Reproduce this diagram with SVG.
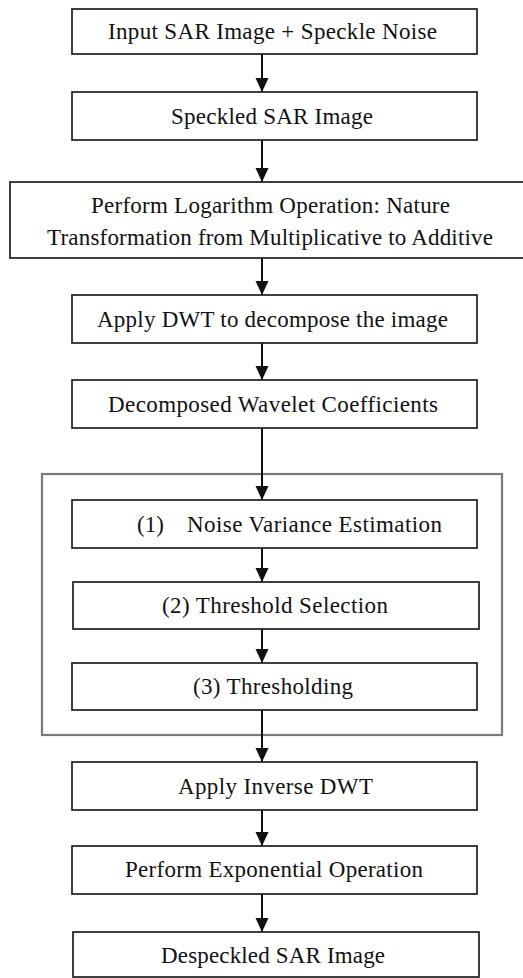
<svg xmlns="http://www.w3.org/2000/svg" width="523" height="978" viewBox="0 0 523 978">
  <style>
    .box { fill: #ffffff; stroke: #1e1e1e; stroke-width: 1.7; }
    .group { fill: none; stroke: #7a7a7a; stroke-width: 2.2; }
    .lbl { font-family: "Liberation Serif", "Times New Roman", serif; font-size: 23px; fill: #111111; text-anchor: middle; }
    .lbl-start { font-family: "Liberation Serif", "Times New Roman", serif; font-size: 23px; fill: #111111; text-anchor: start; }
    .conn { stroke: #111111; stroke-width: 2; fill: none; marker-end: url(#arrow); }
  </style>
  <defs>
    <marker id="arrow" markerUnits="userSpaceOnUse" markerWidth="14" markerHeight="14" refX="14" refY="7" orient="auto">
      <path d="M0,0.5 L14,7 L0,13.5 z" fill="#111111"/>
    </marker>
  </defs>

  <rect width="523" height="978" fill="#ffffff"/>

  <!-- frame around the three denoising steps -->
  <g id="denoise-frame">
    <rect class="group" x="42" y="474" width="460" height="261"/>
  </g>

  <g id="connectors">
    <line class="conn" x1="262" y1="54" x2="262" y2="92"/>
    <line class="conn" x1="262" y1="140" x2="262" y2="182"/>
    <line class="conn" x1="262" y1="258" x2="262" y2="295"/>
    <line class="conn" x1="262" y1="343" x2="262" y2="380"/>
    <line class="conn" x1="262" y1="428" x2="262" y2="500"/>
    <line class="conn" x1="262" y1="548" x2="262" y2="582"/>
    <line class="conn" x1="262" y1="629" x2="262" y2="663"/>
    <line class="conn" x1="262" y1="710" x2="262" y2="762"/>
    <line class="conn" x1="262" y1="810" x2="262" y2="846"/>
    <line class="conn" x1="262" y1="894" x2="262" y2="932"/>
  </g>

  <g id="input">
    <rect class="box" x="72" y="9" width="405" height="45"/>
    <text class="lbl" x="272.5" y="39" textLength="329" lengthAdjust="spacing">Input SAR Image + Speckle Noise</text>
  </g>

  <g id="speckled">
    <rect class="box" x="72" y="92" width="405" height="48"/>
    <text class="lbl" x="272" y="123.5" textLength="202" lengthAdjust="spacing">Speckled SAR Image</text>
  </g>

  <g id="logarithm">
    <rect class="box" x="10" y="182" width="516" height="76"/>
    <text class="lbl" x="270.5" y="213" textLength="359" lengthAdjust="spacing">Perform Logarithm Operation: Nature</text>
    <text class="lbl" x="270" y="244.5" textLength="446" lengthAdjust="spacing">Transformation from Multiplicative to Additive</text>
  </g>

  <g id="dwt">
    <rect class="box" x="72" y="295" width="405" height="48"/>
    <text class="lbl" x="272.5" y="326.5" textLength="351" lengthAdjust="spacing">Apply DWT to decompose the image</text>
  </g>

  <g id="coefficients">
    <rect class="box" x="72" y="380" width="405" height="48"/>
    <text class="lbl" x="273" y="411.5" textLength="330" lengthAdjust="spacing">Decomposed Wavelet Coefficients</text>
  </g>

  <g id="noise-variance">
    <rect class="box" x="72" y="500" width="405" height="48"/>
    <text class="lbl-start" x="137" y="531.5">(1)</text>
    <text class="lbl-start" x="187" y="531.5" textLength="255" lengthAdjust="spacing">Noise Variance Estimation</text>
  </g>

  <g id="threshold-selection">
    <rect class="box" x="73" y="582" width="406" height="47"/>
    <text class="lbl" x="275" y="613" textLength="226" lengthAdjust="spacing">(2) Threshold Selection</text>
  </g>

  <g id="thresholding">
    <rect class="box" x="72" y="663" width="405" height="47"/>
    <text class="lbl" x="273" y="694" textLength="160" lengthAdjust="spacing">(3) Thresholding</text>
  </g>

  <g id="inverse-dwt">
    <rect class="box" x="72" y="762" width="405" height="48"/>
    <text class="lbl" x="275.5" y="793.5" textLength="195" lengthAdjust="spacing">Apply Inverse DWT</text>
  </g>

  <g id="exponential">
    <rect class="box" x="72" y="846" width="405" height="48"/>
    <text class="lbl" x="274" y="877" textLength="298" lengthAdjust="spacing">Perform Exponential Operation</text>
  </g>

  <g id="despeckled">
    <rect class="box" x="73" y="932" width="406" height="45"/>
    <text class="lbl" x="273" y="962.5" textLength="224" lengthAdjust="spacing">Despeckled SAR Image</text>
  </g>
</svg>
